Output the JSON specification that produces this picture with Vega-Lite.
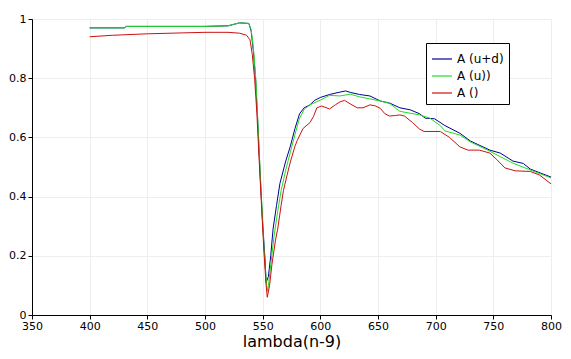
{
  "$schema": "https://vega.github.io/schema/vega-lite/v6.json",
  "width": 519,
  "height": 296,
  "autosize": "none",
  "padding": {"left": 32, "top": 19, "right": 20, "bottom": 44},
  "background": "white",
  "config": {
    "view": {"stroke": null},
    "font": "DejaVu Sans",
    "axis": {
      "domainColor": "black",
      "tickColor": "black",
      "gridColor": "#eeeeee",
      "labelColor": "black",
      "labelFontSize": 11,
      "labelFont": "DejaVu Sans",
      "titleColor": "black",
      "titleFont": "DejaVu Sans",
      "titleFontWeight": "normal",
      "tickSize": 4
    }
  },
  "datasets": {
    "spectra": [
      {"lambda": 400, "A": 0.97, "series": "A (u+d)"},
      {"lambda": 430, "A": 0.97, "series": "A (u+d)"},
      {"lambda": 432, "A": 0.975, "series": "A (u+d)"},
      {"lambda": 500, "A": 0.975, "series": "A (u+d)"},
      {"lambda": 520, "A": 0.977, "series": "A (u+d)"},
      {"lambda": 525, "A": 0.982, "series": "A (u+d)"},
      {"lambda": 530, "A": 0.987, "series": "A (u+d)"},
      {"lambda": 538, "A": 0.985, "series": "A (u+d)"},
      {"lambda": 540, "A": 0.96, "series": "A (u+d)"},
      {"lambda": 542, "A": 0.89, "series": "A (u+d)"},
      {"lambda": 544, "A": 0.79, "series": "A (u+d)"},
      {"lambda": 546, "A": 0.63, "series": "A (u+d)"},
      {"lambda": 548, "A": 0.46, "series": "A (u+d)"},
      {"lambda": 550, "A": 0.31, "series": "A (u+d)"},
      {"lambda": 552, "A": 0.19, "series": "A (u+d)"},
      {"lambda": 553, "A": 0.11, "series": "A (u+d)"},
      {"lambda": 555, "A": 0.13, "series": "A (u+d)"},
      {"lambda": 557, "A": 0.2, "series": "A (u+d)"},
      {"lambda": 559, "A": 0.29, "series": "A (u+d)"},
      {"lambda": 562, "A": 0.37, "series": "A (u+d)"},
      {"lambda": 565, "A": 0.445, "series": "A (u+d)"},
      {"lambda": 570, "A": 0.52, "series": "A (u+d)"},
      {"lambda": 574, "A": 0.57, "series": "A (u+d)"},
      {"lambda": 578, "A": 0.63, "series": "A (u+d)"},
      {"lambda": 582, "A": 0.68, "series": "A (u+d)"},
      {"lambda": 586, "A": 0.7, "series": "A (u+d)"},
      {"lambda": 591, "A": 0.71, "series": "A (u+d)"},
      {"lambda": 595, "A": 0.725, "series": "A (u+d)"},
      {"lambda": 600, "A": 0.735, "series": "A (u+d)"},
      {"lambda": 608, "A": 0.745, "series": "A (u+d)"},
      {"lambda": 617, "A": 0.753, "series": "A (u+d)"},
      {"lambda": 622, "A": 0.757, "series": "A (u+d)"},
      {"lambda": 626, "A": 0.752, "series": "A (u+d)"},
      {"lambda": 634, "A": 0.745, "series": "A (u+d)"},
      {"lambda": 643, "A": 0.74, "series": "A (u+d)"},
      {"lambda": 652, "A": 0.723, "series": "A (u+d)"},
      {"lambda": 660, "A": 0.716, "series": "A (u+d)"},
      {"lambda": 669, "A": 0.7, "series": "A (u+d)"},
      {"lambda": 678, "A": 0.693, "series": "A (u+d)"},
      {"lambda": 686, "A": 0.68, "series": "A (u+d)"},
      {"lambda": 691, "A": 0.665, "series": "A (u+d)"},
      {"lambda": 699, "A": 0.663, "series": "A (u+d)"},
      {"lambda": 708, "A": 0.64, "series": "A (u+d)"},
      {"lambda": 721, "A": 0.614, "series": "A (u+d)"},
      {"lambda": 730, "A": 0.588, "series": "A (u+d)"},
      {"lambda": 747, "A": 0.557, "series": "A (u+d)"},
      {"lambda": 756, "A": 0.547, "series": "A (u+d)"},
      {"lambda": 767, "A": 0.52, "series": "A (u+d)"},
      {"lambda": 776, "A": 0.512, "series": "A (u+d)"},
      {"lambda": 782, "A": 0.493, "series": "A (u+d)"},
      {"lambda": 800, "A": 0.466, "series": "A (u+d)"},

      {"lambda": 400, "A": 0.97, "series": "A (u))"},
      {"lambda": 430, "A": 0.97, "series": "A (u))"},
      {"lambda": 432, "A": 0.975, "series": "A (u))"},
      {"lambda": 500, "A": 0.975, "series": "A (u))"},
      {"lambda": 520, "A": 0.977, "series": "A (u))"},
      {"lambda": 525, "A": 0.982, "series": "A (u))"},
      {"lambda": 530, "A": 0.987, "series": "A (u))"},
      {"lambda": 538, "A": 0.985, "series": "A (u))"},
      {"lambda": 540, "A": 0.965, "series": "A (u))"},
      {"lambda": 542, "A": 0.9, "series": "A (u))"},
      {"lambda": 544, "A": 0.8, "series": "A (u))"},
      {"lambda": 546, "A": 0.64, "series": "A (u))"},
      {"lambda": 548, "A": 0.47, "series": "A (u))"},
      {"lambda": 550, "A": 0.31, "series": "A (u))"},
      {"lambda": 552, "A": 0.17, "series": "A (u))"},
      {"lambda": 554, "A": 0.08, "series": "A (u))"},
      {"lambda": 555, "A": 0.1, "series": "A (u))"},
      {"lambda": 557, "A": 0.17, "series": "A (u))"},
      {"lambda": 560, "A": 0.27, "series": "A (u))"},
      {"lambda": 563, "A": 0.35, "series": "A (u))"},
      {"lambda": 566, "A": 0.42, "series": "A (u))"},
      {"lambda": 570, "A": 0.49, "series": "A (u))"},
      {"lambda": 574, "A": 0.55, "series": "A (u))"},
      {"lambda": 578, "A": 0.61, "series": "A (u))"},
      {"lambda": 582, "A": 0.665, "series": "A (u))"},
      {"lambda": 586, "A": 0.695, "series": "A (u))"},
      {"lambda": 591, "A": 0.71, "series": "A (u))"},
      {"lambda": 600, "A": 0.726, "series": "A (u))"},
      {"lambda": 608, "A": 0.742, "series": "A (u))"},
      {"lambda": 617, "A": 0.74, "series": "A (u))"},
      {"lambda": 626, "A": 0.746, "series": "A (u))"},
      {"lambda": 634, "A": 0.737, "series": "A (u))"},
      {"lambda": 643, "A": 0.73, "series": "A (u))"},
      {"lambda": 652, "A": 0.723, "series": "A (u))"},
      {"lambda": 660, "A": 0.715, "series": "A (u))"},
      {"lambda": 669, "A": 0.688, "series": "A (u))"},
      {"lambda": 686, "A": 0.676, "series": "A (u))"},
      {"lambda": 695, "A": 0.665, "series": "A (u))"},
      {"lambda": 704, "A": 0.64, "series": "A (u))"},
      {"lambda": 708, "A": 0.622, "series": "A (u))"},
      {"lambda": 721, "A": 0.608, "series": "A (u))"},
      {"lambda": 730, "A": 0.585, "series": "A (u))"},
      {"lambda": 745, "A": 0.557, "series": "A (u))"},
      {"lambda": 756, "A": 0.535, "series": "A (u))"},
      {"lambda": 767, "A": 0.513, "series": "A (u))"},
      {"lambda": 782, "A": 0.49, "series": "A (u))"},
      {"lambda": 800, "A": 0.463, "series": "A (u))"},

      {"lambda": 400, "A": 0.94, "series": "A ()"},
      {"lambda": 420, "A": 0.945, "series": "A ()"},
      {"lambda": 450, "A": 0.95, "series": "A ()"},
      {"lambda": 480, "A": 0.953, "series": "A ()"},
      {"lambda": 500, "A": 0.955, "series": "A ()"},
      {"lambda": 520, "A": 0.955, "series": "A ()"},
      {"lambda": 530, "A": 0.952, "series": "A ()"},
      {"lambda": 536, "A": 0.945, "series": "A ()"},
      {"lambda": 539, "A": 0.93, "series": "A ()"},
      {"lambda": 541, "A": 0.88, "series": "A ()"},
      {"lambda": 543, "A": 0.8, "series": "A ()"},
      {"lambda": 545, "A": 0.68, "series": "A ()"},
      {"lambda": 547, "A": 0.52, "series": "A ()"},
      {"lambda": 549, "A": 0.37, "series": "A ()"},
      {"lambda": 551, "A": 0.22, "series": "A ()"},
      {"lambda": 553, "A": 0.1, "series": "A ()"},
      {"lambda": 554, "A": 0.06, "series": "A ()"},
      {"lambda": 556, "A": 0.1, "series": "A ()"},
      {"lambda": 558, "A": 0.17, "series": "A ()"},
      {"lambda": 561, "A": 0.25, "series": "A ()"},
      {"lambda": 563, "A": 0.29, "series": "A ()"},
      {"lambda": 566, "A": 0.37, "series": "A ()"},
      {"lambda": 568, "A": 0.42, "series": "A ()"},
      {"lambda": 571, "A": 0.47, "series": "A ()"},
      {"lambda": 574, "A": 0.517, "series": "A ()"},
      {"lambda": 578, "A": 0.57, "series": "A ()"},
      {"lambda": 580, "A": 0.59, "series": "A ()"},
      {"lambda": 585, "A": 0.63, "series": "A ()"},
      {"lambda": 591, "A": 0.65, "series": "A ()"},
      {"lambda": 594, "A": 0.67, "series": "A ()"},
      {"lambda": 597, "A": 0.7, "series": "A ()"},
      {"lambda": 601, "A": 0.706, "series": "A ()"},
      {"lambda": 604, "A": 0.702, "series": "A ()"},
      {"lambda": 608, "A": 0.696, "series": "A ()"},
      {"lambda": 613, "A": 0.71, "series": "A ()"},
      {"lambda": 617, "A": 0.72, "series": "A ()"},
      {"lambda": 621, "A": 0.725, "series": "A ()"},
      {"lambda": 626, "A": 0.713, "series": "A ()"},
      {"lambda": 632, "A": 0.7, "series": "A ()"},
      {"lambda": 637, "A": 0.7, "series": "A ()"},
      {"lambda": 643, "A": 0.71, "series": "A ()"},
      {"lambda": 648, "A": 0.706, "series": "A ()"},
      {"lambda": 652, "A": 0.698, "series": "A ()"},
      {"lambda": 656, "A": 0.68, "series": "A ()"},
      {"lambda": 660, "A": 0.672, "series": "A ()"},
      {"lambda": 665, "A": 0.674, "series": "A ()"},
      {"lambda": 669, "A": 0.676, "series": "A ()"},
      {"lambda": 673, "A": 0.672, "series": "A ()"},
      {"lambda": 680, "A": 0.65, "series": "A ()"},
      {"lambda": 686, "A": 0.628, "series": "A ()"},
      {"lambda": 690, "A": 0.62, "series": "A ()"},
      {"lambda": 704, "A": 0.62, "series": "A ()"},
      {"lambda": 712, "A": 0.6, "series": "A ()"},
      {"lambda": 721, "A": 0.568, "series": "A ()"},
      {"lambda": 728, "A": 0.557, "series": "A ()"},
      {"lambda": 738, "A": 0.557, "series": "A ()"},
      {"lambda": 747, "A": 0.547, "series": "A ()"},
      {"lambda": 753, "A": 0.525, "series": "A ()"},
      {"lambda": 760, "A": 0.497, "series": "A ()"},
      {"lambda": 769, "A": 0.487, "series": "A ()"},
      {"lambda": 782, "A": 0.485, "series": "A ()"},
      {"lambda": 790, "A": 0.473, "series": "A ()"},
      {"lambda": 800, "A": 0.443, "series": "A ()"}
    ]
  },
  "data": {"name": "spectra"},
  "encoding": {
    "x": {
      "field": "lambda", "type": "quantitative",
      "scale": {"domain": [350, 800], "nice": false, "zero": false},
      "axis": {"values": [350, 400, 450, 500, 550, 600, 650, 700, 750, 800], "title": "lambda(n-9)", "titleFontSize": 16, "titlePadding": 2, "labelPadding": 1, "labelFlush": false}
    },
    "y": {
      "field": "A", "type": "quantitative",
      "scale": {"domain": [0, 1], "nice": false},
      "axis": {"values": [0, 0.2, 0.4, 0.6, 0.8, 1], "format": "~g", "title": null, "labelPadding": 2, "labelFlush": false}
    },
    "color": {
      "field": "series", "type": "nominal",
      "scale": {"domain": ["A (u+d)", "A (u))", "A ()"], "range": ["#000090", "#22dd22", "#cc1111"]},
      "legend": {
        "title": null,
        "orient": "none",
        "legendX": 394,
        "legendY": 24,
        "strokeColor": "black",
        "fillColor": "white",
        "padding": 5,
        "symbolType": "stroke",
        "symbolSize": 400,
        "symbolStrokeWidth": 1.2,
        "labelFontSize": 12,
        "labelColor": "black",
        "labelFont": "DejaVu Sans",
        "rowPadding": 0,
        "labelOffset": 4
      }
    }
  },
  "layer": [
    {"transform": [{"filter": "datum.series == 'A (u+d)'"}], "mark": {"type": "line", "strokeWidth": 1}},
    {"transform": [{"filter": "datum.series == 'A (u))'"}], "mark": {"type": "line", "strokeWidth": 1}},
    {"transform": [{"filter": "datum.series == 'A ()'"}], "mark": {"type": "line", "strokeWidth": 1}}
  ]
}
